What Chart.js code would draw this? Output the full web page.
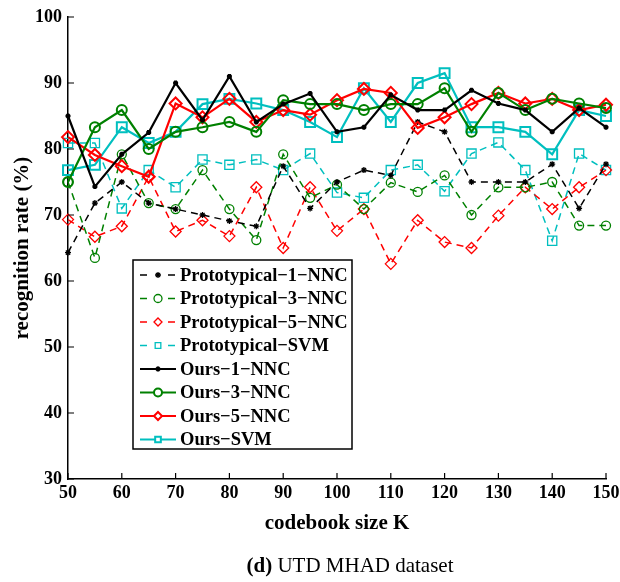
<!DOCTYPE html>
<html>
<head>
<meta charset="utf-8">
<script src="https://cdn.jsdelivr.net/npm/chart.js@4/dist/chart.umd.min.js"></script>
<style>
  body { margin: 0; background: #fff; }
  #wrap { position: relative; width: 620px; height: 582px; }
  #caption {
    position: absolute; left: 0; width: 700px; top: 553px;
    text-align: center; font-family: 'Liberation Serif', serif; font-size: 21px; color: #000;
  }
</style>
</head>
<body>
<div id="wrap">
  <canvas id="grafico" width="620" height="582"></canvas>
  <div id="caption"><b>(d)</b> UTD MHAD dataset</div>
</div>
<script>
const ks = [50, 55, 60, 65, 70, 75, 80, 85, 90, 95, 100, 105, 110, 115, 120, 125, 130, 135, 140, 145, 150];

const proto1 = [64.3, 71.8, 75.0, 71.8, 70.9, 70.0, 69.1, 68.3, 77.4, 71.0, 75.0, 76.8, 76.0, 84.1, 82.6, 75.0, 75.0, 75.0, 77.7, 71.0, 77.7];
const proto3 = [75.0, 63.5, 79.2, 71.8, 70.9, 76.8, 70.9, 66.2, 79.2, 72.6, 74.6, 70.9, 74.9, 73.5, 76.0, 70.0, 74.2, 74.2, 75.0, 68.4, 68.4];
const proto5 = [69.3, 66.7, 68.3, 75.8, 67.5, 69.2, 66.8, 74.2, 65.0, 74.2, 67.6, 70.9, 62.6, 69.2, 65.9, 65.0, 69.9, 74.2, 70.9, 74.2, 76.8];
const protoSvm = [80.9, 80.9, 71.0, 76.8, 74.2, 78.4, 77.6, 78.4, 76.8, 79.3, 73.4, 72.6, 76.8, 77.6, 73.6, 79.3, 81.0, 76.8, 66.1, 79.3, 76.8];
const ours1 = [85.0, 74.3, 79.2, 82.5, 90.0, 84.4, 91.0, 84.1, 86.8, 88.4, 82.6, 83.3, 88.2, 85.9, 85.9, 88.9, 86.9, 85.9, 82.6, 86.2, 83.3];
const ours3 = [75.0, 83.3, 85.9, 80.0, 82.6, 83.3, 84.1, 82.6, 87.4, 86.8, 86.8, 85.9, 86.8, 86.8, 89.2, 82.6, 88.5, 85.9, 87.6, 86.9, 86.2];
const ours5 = [81.8, 79.1, 77.4, 75.8, 86.9, 84.8, 87.6, 84.1, 85.9, 85.2, 87.4, 89.1, 88.5, 83.2, 84.8, 86.8, 88.5, 86.9, 87.6, 85.9, 86.7];
const oursSvm = [76.8, 77.6, 83.3, 80.9, 82.6, 86.8, 87.6, 86.9, 85.9, 84.1, 81.8, 89.2, 84.1, 90.0, 91.5, 83.3, 83.3, 82.6, 79.2, 85.9, 85.0];

const xTicks = [50, 60, 70, 80, 90, 100, 110, 120, 130, 140, 150];
const yTicks = [30, 40, 50, 60, 70, 80, 90, 100];

const M = '\u2212';
const FONT = "'Liberation Serif', 'Times New Roman', serif";
const CYAN = '#00BFBF', GREEN = '#008000', RED = '#FF0000', BLACK = '#000000';

const pts = vals => ks.map((k, i) => ({ x: k, y: vals[i] }));

function serie(label, vals, color, marker, radius, ours) {
  return {
    label,
    data: pts(vals),
    borderColor: color,
    backgroundColor: 'rgba(0,0,0,0)',
    pointBackgroundColor: 'rgba(0,0,0,0)',
    pointBorderColor: color,
    pointStyle: marker,
    pointRadius: radius,
    pointHoverRadius: radius,
    pointBorderWidth: ours ? 2 : 1.3,
    borderWidth: ours ? 2.2 : 1.5,
    borderDash: ours ? [] : [7, 5],
    tension: 0,
    clip: false,
    order: ours ? 0 : 1
  };
}

// ticks hacia dentro, estilo MATLAB
const ticksDentro = {
  id: 'ticksDentro',
  afterDraw(chart) {
    const { ctx, chartArea, scales } = chart;
    ctx.save();
    ctx.strokeStyle = '#000';
    ctx.lineWidth = 1.2;
    ctx.beginPath();
    yTicks.forEach(v => {
      const y = scales.y.getPixelForValue(v);
      ctx.moveTo(chartArea.left, y);
      ctx.lineTo(chartArea.left + 6, y);
    });
    xTicks.forEach(v => {
      const x = scales.x.getPixelForValue(v);
      ctx.moveTo(x, chartArea.bottom);
      ctx.lineTo(x, chartArea.bottom - 6);
    });
    ctx.stroke();
    ctx.restore();
  }
};

// leyenda dentro del area, con caja
const leyenda = {
  id: 'leyenda',
  afterDraw(chart) {
    const { ctx } = chart;
    const x0 = 133, y0 = 260, w = 219, h = 189, row = 23.5;
    ctx.save();
    ctx.fillStyle = '#fff';
    ctx.fillRect(x0, y0, w, h);
    ctx.strokeStyle = '#000';
    ctx.lineWidth = 1.5;
    ctx.strokeRect(x0, y0, w, h);
    chart.data.datasets.forEach((ds, i) => {
      const y = y0 + 15 + i * row;
      const ours = ds.borderDash.length === 0;
      ctx.strokeStyle = ds.borderColor;
      ctx.lineWidth = ds.borderWidth;
      ctx.setLineDash([]);
      ctx.beginPath();
      if (ours) {
        ctx.moveTo(140, y); ctx.lineTo(176, y);
      } else {
        ctx.moveTo(140, y); ctx.lineTo(147, y);
        ctx.moveTo(168, y); ctx.lineTo(175, y);
      }
      ctx.stroke();
      ctx.fillStyle = ours ? '#fff' : 'rgba(0,0,0,0)';
      ctx.strokeStyle = ds.borderColor;
      ctx.lineWidth = ds.pointBorderWidth;
      Chart.helpers.drawPoint(ctx, {
        pointStyle: ds.pointStyle,
        radius: Math.min(ds.pointRadius, 4),
        borderWidth: ds.pointBorderWidth
      }, 158, y);
      ctx.fillStyle = '#000';
      ctx.font = 'bold 18.5px ' + FONT;
      ctx.textBaseline = 'middle';
      ctx.fillText(ds.label, 180, y + 1);
    });
    ctx.restore();
  }
};

new Chart(document.getElementById('grafico'), {
  type: 'line',
  data: {
    datasets: [
      serie('Prototypical' + M + '1' + M + 'NNC', proto1, BLACK, 'star', 3, false),
      serie('Prototypical' + M + '3' + M + 'NNC', proto3, GREEN, 'circle', 4.5, false),
      serie('Prototypical' + M + '5' + M + 'NNC', proto5, RED, 'rectRot', 5.5, false),
      serie('Prototypical' + M + 'SVM', protoSvm, CYAN, 'rect', 6.5, false),
      serie('Ours' + M + '1' + M + 'NNC', ours1, BLACK, 'star', 2.5, true),
      serie('Ours' + M + '3' + M + 'NNC', ours3, GREEN, 'circle', 5, true),
      serie('Ours' + M + '5' + M + 'NNC', ours5, RED, 'rectRot', 6, true),
      serie('Ours' + M + 'SVM', oursSvm, CYAN, 'rect', 7, true)
    ]
  },
  options: {
    responsive: false,
    animation: false,
    layout: { padding: { top: 17, right: 0, bottom: 46, left: 0 } },
    plugins: {
      legend: { display: false },
      tooltip: { enabled: false }
    },
    scales: {
      x: {
        type: 'linear',
        min: 50,
        max: 150,
        afterBuildTicks: s => { s.ticks = xTicks.map(v => ({ value: v })); },
        afterFit: s => { s.height = 57; s.paddingRight = 14; },
        ticks: { color: '#000', font: { family: FONT, weight: 'bold', size: 18 }, padding: 4, maxRotation: 0 },
        grid: { display: true, drawOnChartArea: false, drawTicks: false },
        border: { display: true, color: '#000', width: 1.5 },
        title: { display: true, text: 'codebook size K', color: '#000', font: { family: FONT, weight: 'bold', size: 21 }, padding: { top: 4, bottom: 0 } }
      },
      y: {
        min: 30,
        max: 100,
        afterBuildTicks: s => { s.ticks = yTicks.map(v => ({ value: v })); },
        afterFit: s => { s.width = 68; },
        ticks: { color: '#000', font: { family: FONT, weight: 'bold', size: 18 }, padding: 6 },
        grid: { display: true, drawOnChartArea: false, drawTicks: false },
        border: { display: true, color: '#000', width: 1.5 },
        title: { display: true, text: 'recognition rate (%)', color: '#000', font: { family: FONT, weight: 'bold', size: 21 }, padding: { top: 10, bottom: 0 } }
      }
    }
  },
  plugins: [ticksDentro, leyenda]
});
</script>
</body>
</html>
